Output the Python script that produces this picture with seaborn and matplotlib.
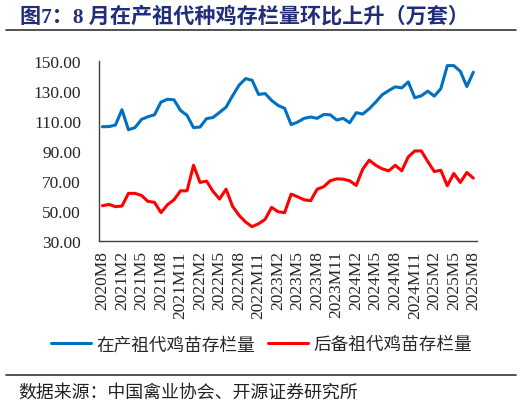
import pandas as pd
import seaborn as sns
import matplotlib.pyplot as plt
from matplotlib.lines import Line2D

# -------------------- Data --------------------
months = ["2020M8", "2020M12"] + [f"{y}M{m}" for y in range(2021, 2026) for m in range(1, 13)][:56]

in_production = [
    106.2, 106.3, 107.3, 117.6, 104.2, 105.6, 111.1, 112.9, 114.2, 122.7,
    124.6, 124.2, 117.1, 113.8, 105.6, 106.0, 111.6, 112.4, 115.8, 119.3,
    126.9, 134.0, 138.4, 137.3, 127.8, 128.4, 123.8, 120.4, 118.5, 107.6,
    109.3, 111.8, 112.7, 111.8, 114.4, 114.2, 110.7, 111.8, 108.9, 115.6,
    114.7, 118.2, 122.7, 127.6, 130.4, 132.9, 132.2, 136.2, 125.6, 126.9,
    130.0, 126.7, 131.6, 147.1, 147.1, 143.3, 133.1, 142.7,
]
reserve = [
    53.3, 54.2, 52.7, 53.1, 61.6, 61.6, 60.2, 56.2, 55.6, 48.7,
    54.0, 57.3, 63.3, 63.3, 80.4, 68.9, 69.8, 62.9, 57.8, 64.4,
    52.9, 46.9, 42.4, 39.3, 41.3, 44.2, 52.2, 49.3, 48.7, 61.1,
    59.3, 57.3, 56.7, 64.4, 66.0, 70.0, 71.3, 71.1, 70.0, 66.9,
    77.8, 83.8, 80.4, 78.0, 76.7, 80.4, 76.7, 86.0, 90.0, 90.0,
    82.9, 76.2, 77.1, 66.7, 74.9, 68.9, 75.6, 71.8,
]
series_names = ["在产祖代鸡苗存栏量", "后备祖代鸡苗存栏量"]
colors = {"在产祖代鸡苗存栏量": "#0070C0", "后备祖代鸡苗存栏量": "#FF0000"}

df = pd.DataFrame({
    "idx": list(range(len(months))) * 2,
    "value": in_production + reserve,
    "series": [series_names[0]] * len(months) + [series_names[1]] * len(months),
})

# -------------------- Style --------------------
sns.set_style("white")
plt.rcParams["font.family"] = ["Liberation Serif", "Noto Sans CJK SC"]
cjk = ["Noto Sans CJK SC", "DejaVu Sans"]

fig = plt.figure(figsize=(5.22, 4.06), dpi=100)
ax = fig.add_axes([0.190, 0.405, 0.723, 0.4416])

sns.lineplot(data=df, x="idx", y="value", hue="series", palette=colors,
             linewidth=2.2, ax=ax, legend=True)

# -------------------- Axes --------------------
ax.set_xlim(-0.5, len(months) - 0.5)
ax.set_ylim(30, 150)
ax.set_yticks(range(30, 151, 20))
ax.set_yticklabels([f"{v:.2f}" for v in range(30, 151, 20)])
ax.set_xlabel("")
ax.set_ylabel("")

# tick marks between categories, labels on the categories
ax.set_xticks([k - 0.5 for k in range(0, len(months), 3)])
ax.set_xticklabels([])
ax.set_xticks(list(range(0, len(months), 3)), minor=True)
ax.set_xticklabels(months[::3], minor=True, rotation=90)
ax.tick_params(axis="x", which="major", direction="in", length=4, width=1, color="#404040")
ax.tick_params(axis="x", which="minor", length=0, pad=7, labelsize=12.5)
ax.tick_params(axis="y", direction="in", length=4, width=1, color="#404040",
               pad=13, labelsize=12.5)

for side in ["top", "right"]:
    ax.spines[side].set_visible(False)
for side in ["left", "bottom"]:
    ax.spines[side].set_color("#404040")
    ax.spines[side].set_linewidth(1)

# -------------------- Legend --------------------
handles, labels = ax.get_legend_handles_labels()
ax.get_legend().remove()
fig.legend(handles, labels, loc="center", bbox_to_anchor=(0.501, 0.150), ncol=2,
           frameon=False, handlelength=2.3, handletextpad=0.3, columnspacing=0.7,
           prop={"family": cjk, "size": 12.7})

# -------------------- Title / source --------------------
fig.text(0.038, 0.958, "图7：8 月在产祖代种鸡存栏量环比上升（万套）",
         family=["Liberation Serif", "Noto Sans CJK SC"], weight="bold",
         fontsize=15.2, color="#1F2D7A", va="center", ha="left")
fig.add_artist(Line2D([6 / 522, 516 / 522], [1 - 31 / 406] * 2,
                      transform=fig.transFigure, color="#333333", lw=1.2))
fig.add_artist(Line2D([6 / 522, 516 / 522], [1 - 376 / 406] * 2,
                      transform=fig.transFigure, color="#333333", lw=1.2))
fig.text(0.0345, 0.032, "数据来源：中国禽业协会、开源证券研究所",
         family=cjk, fontsize=12.9, color="#222222", va="center", ha="left")

fig.savefig("out.png", dpi=100)
